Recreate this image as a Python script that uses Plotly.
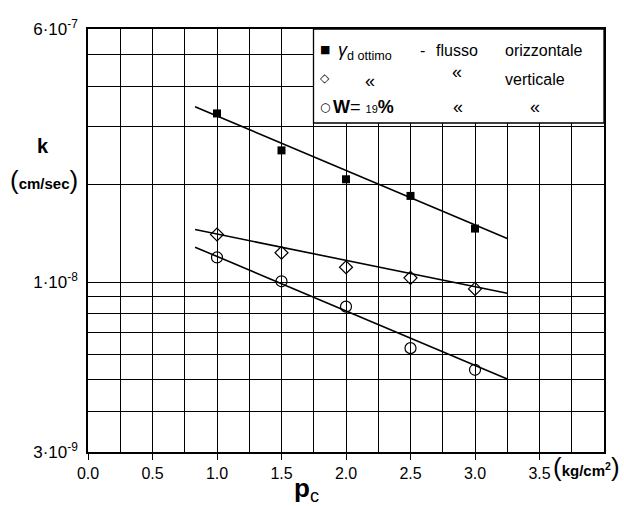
import plotly.graph_objects as go

# ---- data ----
p_c = [1.0, 1.5, 2.0, 2.5, 3.0]
k_orizz = [3.30e-8, 2.54e-8, 2.07e-8, 1.84e-8, 1.46e-8]
k_vert = [1.40e-8, 1.23e-8, 1.11e-8, 1.03e-8, 9.52e-9]
k_w19 = [1.19e-8, 1.005e-8, 8.40e-9, 6.26e-9, 5.37e-9]

# fitted straight lines (end points)
fit_x = [0.83, 3.25]
fit_orizz = [3.46e-8, 1.36e-8]
fit_vert = [1.45e-8, 9.23e-9]
fit_w19 = [1.28e-8, 5.03e-9]

y_tickvals = [3e-9, 1e-8, 6e-8]
y_ticktext = ["3·10<sup>-9</sup>", "1·10<sup>-8</sup>", "6·10<sup>-7</sup>"]
y_gridvals = [3e-9, 4e-9, 5e-9, 6e-9, 7e-9, 8e-9, 9e-9, 1e-8, 2e-8, 3e-8, 4e-8, 5e-8, 6e-8]
x_tickvals = [0.0, 0.5, 1.0, 1.5, 2.0, 2.5, 3.0, 3.5]
x_ticktext = ["0.0", "0.5", "1.0", "1.5", "2.0", "2.5", "3.0", "3.5"]

W, H = 624, 506
ML, MR, MT, MB = 88, 20, 29, 54
PW, PH = W - ML - MR, H - MT - MB


def P(px, py):
    return (px - ML) / PW, (H - MB - py) / PH


fig = go.Figure()
line_style = dict(color="black", width=1.6)
for fy in (fit_orizz, fit_vert, fit_w19):
    fig.add_trace(go.Scatter(x=fit_x, y=fy, mode="lines", line=line_style,
                             showlegend=False, hoverinfo="skip"))

fig.add_trace(go.Scatter(x=p_c, y=k_orizz, mode="markers", showlegend=False,
                         marker=dict(symbol="square", size=8, color="black")))
fig.add_trace(go.Scatter(x=p_c, y=k_vert, mode="markers", showlegend=False,
                         marker=dict(symbol="diamond-open", size=10, color="black",
                                     line=dict(width=1.2, color="black"))))
fig.add_trace(go.Scatter(x=p_c, y=k_w19, mode="markers", showlegend=False,
                         marker=dict(symbol="circle-open", size=11, color="black",
                                     line=dict(width=1.2, color="black"))))

font_main = "Liberation Sans, Arial, sans-serif"

fig.update_xaxes(
    range=[0, 4], tickvals=x_tickvals, ticktext=x_ticktext,
    showgrid=True, gridcolor="black", gridwidth=1,
    showline=True, linecolor="black", linewidth=1.5, mirror=True,
    ticks="outside", ticklen=6, tickcolor="black", tickwidth=1.2,
    minor=dict(dtick=0.25, showgrid=True, gridcolor="black", gridwidth=1, ticks=""),
    zeroline=False,
    tickfont=dict(family=font_main, size=16, color="black"),
)
fig.update_yaxes(
    type="log", range=[-8.5229, -7.2218],
    tickvals=y_tickvals, ticktext=y_ticktext,
    showgrid=False,
    showline=True, linecolor="black", linewidth=1.5, mirror=True,
    ticks="", ticklabelstandoff=5,
    minor=dict(tickvals=y_gridvals, showgrid=True, gridcolor="black", gridwidth=1, ticks=""),
    zeroline=False,
    tickfont=dict(family=font_main, size=17, color="black"),
)

shapes = []
# legend box
x0, y0 = P(313.5, 123)
shapes.append(dict(type="rect", xref="paper", yref="paper", x0=x0, y0=y0, x1=1.0, y1=1.0,
                   fillcolor="white", line=dict(color="black", width=1.3), layer="above"))

annots = []


def txt(px, py, text, size=15, family=font_main, xanchor="center", **kw):
    x, y = P(px, py)
    annots.append(dict(x=x, y=y, xref="paper", yref="paper", text=text, showarrow=False,
                       xanchor=xanchor, yanchor="middle",
                       font=dict(family=family, size=size, color="black"), **kw))


# legend text
txt(325, 50, "■", size=11, family="DejaVu Sans")
txt(336, 52, "<i>γ</i><sub>d ottimo</sub>", size=18, xanchor="left")
txt(422, 51, "-", size=16)
txt(457, 51, "flusso", size=16)
txt(543, 51, "orizzontale", size=16)
txt(325, 78, "◇", size=12, family="DejaVu Sans")
txt(370, 81, "«", size=18)
txt(457, 72, "«", size=18)
txt(535, 80, "verticale", size=16)
txt(325, 107, "○", size=12, family="DejaVu Sans")
txt(331, 107, "<b>W</b>= <span style='font-size:11px'>19</span><b>%</b>", size=18, xanchor="left")
txt(458, 107, "«", size=18)
txt(535, 107, "«", size=18)

# axis titles
big_l = "<span style='font-size:26px;font-weight:normal'>(</span>"
big_r = "<span style='font-size:26px;font-weight:normal'>)</span>"
txt(43, 146, "<b>k</b>", size=20)
txt(44, 180, big_l + "<b>cm/sec</b>" + big_r, size=15)
txt(306, 489, "<b>p</b><sub>c</sub>", size=26)
txt(586, 467, big_l + "<b>kg/cm<sup>2</sup></b>" + big_r, size=15)

fig.update_layout(
    width=W, height=H,
    margin=dict(l=ML, r=MR, t=MT, b=MB),
    paper_bgcolor="white", plot_bgcolor="white",
    shapes=shapes, annotations=annots,
    showlegend=False,
)

fig.write_html("out.html")
